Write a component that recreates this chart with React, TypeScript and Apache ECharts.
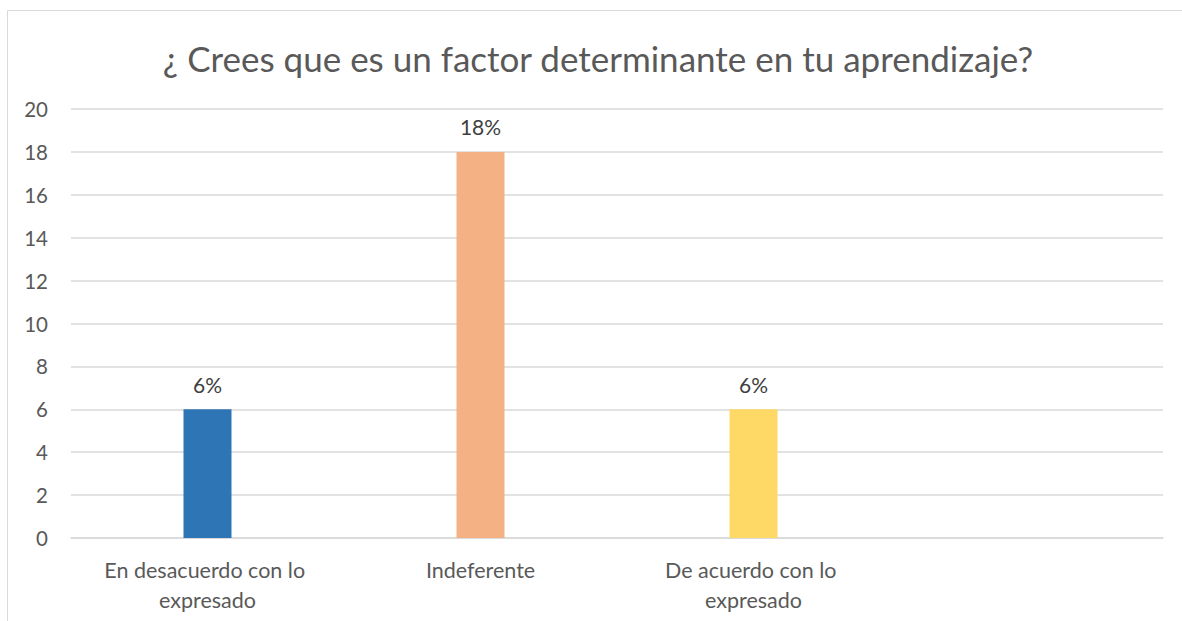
import React, { useEffect, useRef } from "react";
import * as echarts from "echarts";

const titleText = "¿ Crees que es un factor determinante en tu aprendizaje?";
const categories = ["En desacuerdo con lo expresado", "Indeferente", "De acuerdo con lo expresado", ""];
const values: (number | null)[] = [6, 18, 6, null];
const labels = ["6%", "18%", "6%", ""];
const colors = ["#2E75B6", "#F4B183", "#FFD966", "#FFFFFF"];
const yMin = 0;
const yMax = 20;
const yStep = 2;

const FONT = "Lato, 'Noto Sans', sans-serif";

export default function App() {
  const ref = useRef<HTMLDivElement>(null);
  useEffect(() => {
    document.body.style.margin = "0";
    if (!ref.current) return;
    const chart = echarts.init(ref.current, undefined, { renderer: "svg" });
    chart.setOption({
      animation: false,
      backgroundColor: "#ffffff",
      title: {
        text: titleText,
        left: 598,
        top: 36,
        padding: 0,
        textAlign: "center",
        textStyle: { fontFamily: FONT, fontSize: 35, fontWeight: "normal", color: "#595959", lineHeight: 44 },
      },
      graphic: [
        {
          type: "rect",
          shape: { x: 7.5, y: 10.5, width: 1200, height: 700 },
          style: { fill: "none", stroke: "#d9d9d9", lineWidth: 1 },
          silent: true,
        },
      ],
      grid: { left: 71, right: 19, top: 109, bottom: 83 },
      xAxis: {
        type: "category",
        data: categories,
        axisLine: { show: true, lineStyle: { color: "#d9d9d9", width: 1.5 } },
        axisTick: { show: false },
        splitLine: { show: false },
        axisLabel: {
          interval: 0,
          margin: 17,
          width: 230,
          overflow: "break",
          fontFamily: FONT,
          fontSize: 21.5,
          lineHeight: 30,
          color: "#595959",
        },
      },
      yAxis: {
        type: "value",
        min: yMin,
        max: yMax,
        interval: yStep,
        axisLine: { show: false },
        axisTick: { show: false },
        splitLine: { lineStyle: { color: "#d9d9d9", width: 1.5 } },
        axisLabel: { margin: 23, fontFamily: FONT, fontSize: 20.5, color: "#595959" },
      },
      series: [
        {
          type: "bar",
          barWidth: 48,
          data: values.map((v, i) => ({
            value: v,
            itemStyle: { color: colors[i] },
            label: { formatter: labels[i] },
          })),
          label: {
            show: true,
            position: "top",
            distance: 15,
            fontFamily: FONT,
            fontSize: 21,
            lineHeight: 20,
            color: "#404040",
          },
        },
      ],
    });
    return () => chart.dispose();
  }, []);
  return <div ref={ref} style={{ width: 1182, height: 621 }} />;
}
